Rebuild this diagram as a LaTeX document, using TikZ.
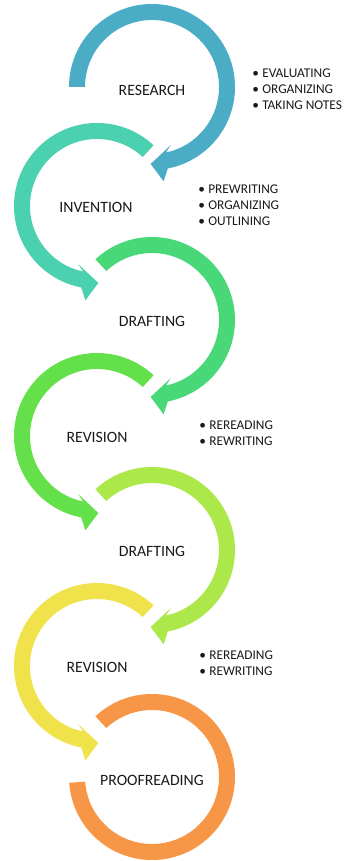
\documentclass[tikz,border=0pt]{standalone}
\usepackage{fontspec}
\setmainfont{Carlito}
\definecolor{cresearch}{HTML}{4BACC6}
\definecolor{cinvention}{HTML}{4BD0B0}
\definecolor{cdrafting}{HTML}{48D877}
\definecolor{crevision}{HTML}{63E04A}
\definecolor{cdraftingb}{HTML}{ADE84A}
\definecolor{crevisionb}{HTML}{F0E24A}
\definecolor{cproof}{HTML}{F79646}
\tikzset{
	steplabel/.style={font=\fontsize{11.2}{13}\selectfont,text=black!90,inner sep=0pt},
	bullets/.style={font=\fontsize{9.5}{11.4}\selectfont,text=black!90,inner sep=0pt,
		anchor=west,align=left}
}
\newcommand{\bul}{\makebox[7.1pt][l]{\textbullet}}
\begin{document}
\begin{tikzpicture}[x=0.025cm,y=0.025cm]
\useasboundingbox (0,0) rectangle (346,861);
\def\ro{83}
\def\ri{67}
\foreach \cx/\cy/\s/\a/\c in {152/774/1/180/cresearch,97/655/-1/133/cinvention,
	152/541/1/133/cdrafting,97/425/-1/133/crevision,
	152/311/1/133/cdraftingb,97/195/-1/133/crevisionb}{
	\fill[color=\c,shift={(\cx,\cy)},xscale=\s] (\a:\ro)
		arc[start angle=\a,end angle=-79,radius=\ro] -- (-83:95) -- (-91:77)
		-- (-72:61) -- (-78:\ri) arc[start angle=-78,end angle=\a,radius=\ri] -- cycle;
}
\fill[color=cproof,shift={(152,84)}] (133:\ro)
	arc[start angle=133,end angle=-176,radius=\ro] -- (-176:\ri)
	arc[start angle=-176,end angle=133,radius=\ri] -- cycle;

\node[steplabel] (research) at (152,771) {RESEARCH};
\node[steplabel] (invention) at (96,654) {INVENTION};
\node[steplabel] (drafting) at (152,540) {DRAFTING};
\node[steplabel] (revision) at (97,424) {REVISION};
\node[steplabel] (draftingb) at (152,310) {DRAFTING};
\node[steplabel] (revisionb) at (97,194) {REVISION};
\node[steplabel] (proofreading) at (152,81) {PROOFREADING};

\node[bullets] (researchlist) at (252,772)
	{\bul EVALUATING\\ \bul ORGANIZING\\ \bul TAKING NOTES};
\node[bullets] (inventionlist) at (198,656)
	{\bul PREWRITING\\ \bul ORGANIZING\\ \bul OUTLINING};
\node[bullets] (revisionlist) at (199,428)
	{\bul REREADING\\ \bul REWRITING};
\node[bullets] (revisionblist) at (199,198)
	{\bul REREADING\\ \bul REWRITING};
\end{tikzpicture}
\end{document}
